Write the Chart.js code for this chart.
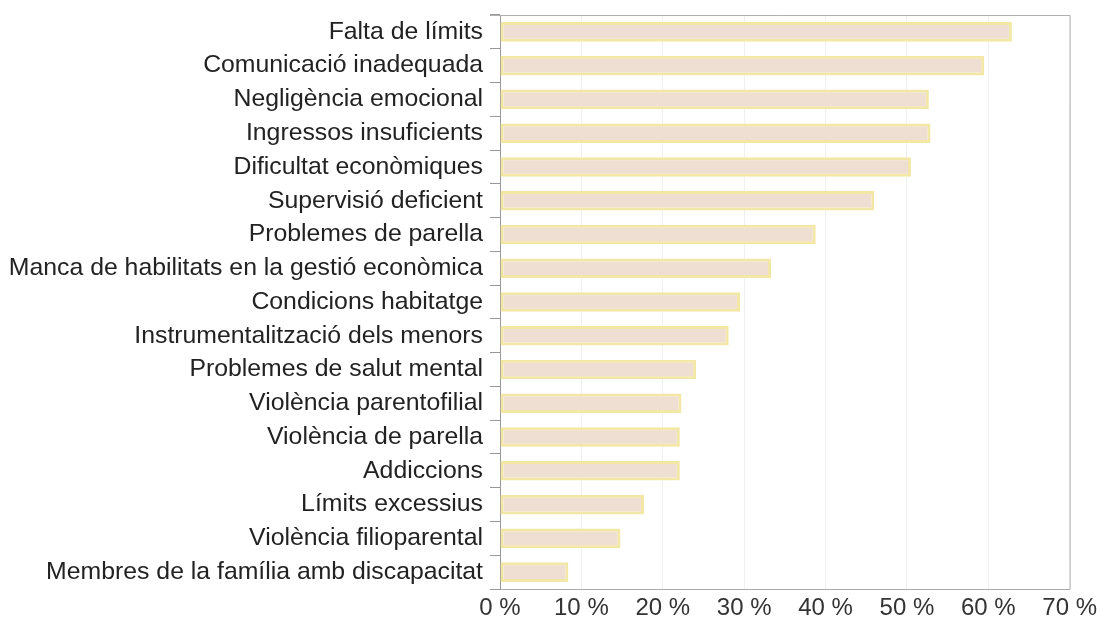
<!DOCTYPE html>
<html>
<head>
<meta charset="utf-8">
<script src="https://cdn.jsdelivr.net/npm/chart.js@4"></script>
<style>
  html, body { margin: 0; padding: 0; background: #fff; }
  #wrap { width: 1102px; height: 632px; }
</style>
</head>
<body>
<div id="wrap"><canvas id="factorsChart" width="1102" height="632"></canvas></div>
<script>
// Factors, ordered as listed top to bottom
const factors = [
    "Falta de límits",
    "Comunicació inadequada",
    "Negligència emocional",
    "Ingressos insuficients",
    "Dificultat econòmiques",
    "Supervisió deficient",
    "Problemes de parella",
    "Manca de habilitats en la gestió econòmica",
    "Condicions habitatge",
    "Instrumentalització dels menors",
    "Problemes de salut mental",
    "Violència parentofilial",
    "Violència de parella",
    "Addiccions",
    "Límits excessius",
    "Violència filioparental",
    "Membres de la família amb discapacitat"
];

// Share of cases (%)
const percentages = [62.9, 59.5, 52.7, 52.9, 50.5, 46.0, 38.8, 33.3, 29.5, 28.1, 24.1, 22.3, 22.1, 22.1, 17.7, 14.8, 8.4];

const xTicks = [0, 10, 20, 30, 40, 50, 60, 70];

const fontFamily = "'Liberation Sans', Arial, sans-serif";

// Thin frame on the top and right of the plot area
const framePlugin = {
    id: 'frame',
    afterDraw(chart) {
        const { ctx, chartArea: a } = chart;
        ctx.save();
        ctx.strokeStyle = '#b0b0b0';
        ctx.lineWidth = 1;
        ctx.beginPath();
        ctx.moveTo(a.left - 10, a.top + 0.5);
        ctx.lineTo(a.right + 0.5, a.top + 0.5);
        ctx.lineTo(a.right + 0.5, a.bottom);
        ctx.stroke();
        ctx.restore();
    }
};

const ctx = document.getElementById('factorsChart').getContext('2d');

new Chart(ctx, {
    type: 'bar',
    data: {
        labels: factors,
        datasets: [{
            data: percentages,
            backgroundColor: '#efdfd2',
            borderColor: '#f3e7a6',
            borderWidth: 3,
            borderSkipped: false,
            barPercentage: 0.58,
            categoryPercentage: 1
        }]
    },
    options: {
        indexAxis: 'y',
        responsive: false,
        animation: false,
        layout: { padding: { top: 15, right: 27, left: 0, bottom: 0 } },
        plugins: {
            legend: { display: false },
            tooltip: { enabled: false }
        },
        scales: {
            x: {
                min: 0,
                max: 70,
                afterBuildTicks(scale) {
                    scale.ticks = xTicks.map(v => ({ value: v }));
                },
                afterFit(scale) { scale.height = 43; },
                ticks: {
                    color: '#333',
                    font: { family: fontFamily, size: 24 },
                    padding: 5,
                    callback: v => v + ' %'
                },
                grid: { color: '#f0f0f0', tickLength: 0, drawTicks: false },
                border: { color: '#aaaaaa', width: 1 }
            },
            y: {
                afterFit(scale) {
                    scale.width = 500;
                    scale.paddingTop = 0;
                    scale.paddingBottom = 0;
                },
                ticks: {
                    color: '#222',
                    font: { family: fontFamily, size: 24.8, lineHeight: 0.8 },
                    padding: 7
                },
                grid: {
                    drawOnChartArea: false,
                    tickLength: 10,
                    color: '#999999',
                    offset: true
                },
                border: { color: '#999999', width: 1 }
            }
        }
    },
    plugins: [framePlugin]
});
</script>
</body>
</html>
